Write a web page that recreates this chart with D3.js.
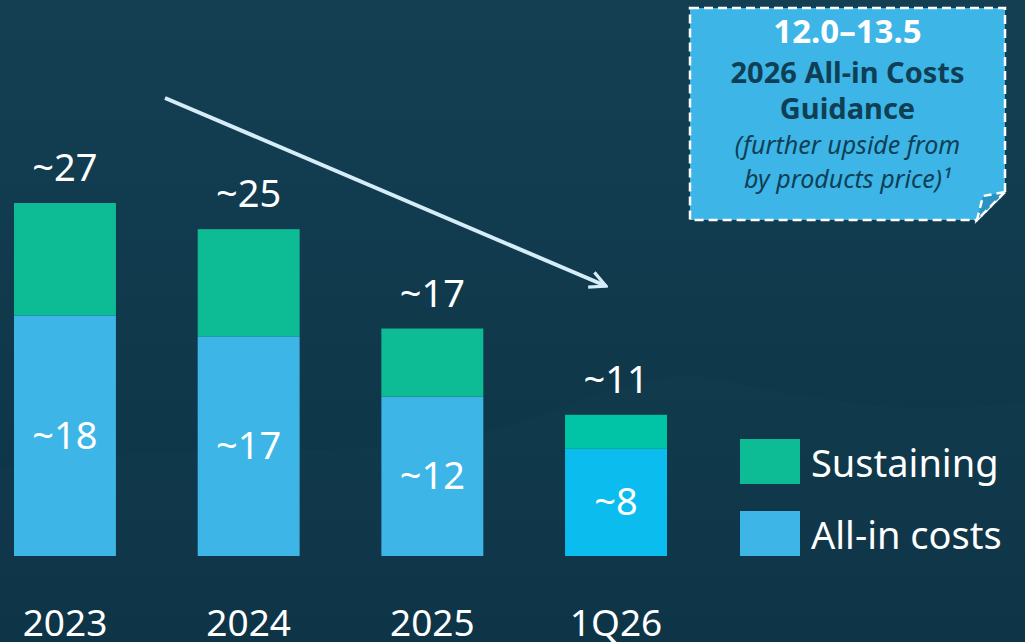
<!DOCTYPE html>
<html>
<head>
<meta charset="utf-8">
<script src="https://cdn.jsdelivr.net/npm/d3@7"></script>
<style>
  html, body { margin: 0; padding: 0; background: #123c4f; }
  svg { display: block; }
  text { font-family: "Noto Sans", "Open Sans", sans-serif; }
</style>
</head>
<body>
<div id="chart"></div>
<script>
// values (approx.)
const categories = ["2023", "2024", "2025", "1Q26"];
const allInCosts = [18.4, 16.8, 12.2, 8.2];
const sustaining = [8.6, 8.2, 5.2, 2.6];
const totalLabels = ["~27", "~25", "~17", "~11"];
const allInLabels = ["~18", "~17", "~12", "~8"];
const seriesNames = ["Sustaining", "All-in costs"];

const colors = {
    bg1: '#143f53',
    bg2: '#0c3345',
    allIn: '#3db5e6',
    allInHi: '#0bbcef',
    sust: '#0dbb95',
    sustHi: '#01c4a7',
    arrow: '#d4edf8',
    boxText: '#0f3f55',
}

const W = 1025, H = 642;
const svg = d3.select("#chart").append("svg")
    .attr("width", W)
    .attr("height", H);

// background
const defs = svg.append("defs");
const grad = defs.append("linearGradient").attr("id", "bg").attr("x1", 0).attr("y1", 0).attr("x2", 0).attr("y2", 1);
grad.append("stop").attr("offset", "0%").attr("stop-color", colors.bg1);
grad.append("stop").attr("offset", "100%").attr("stop-color", colors.bg2);
svg.append("rect").attr("width", W).attr("height", H).attr("fill", "url(#bg)");

// faint hill silhouette behind the bars
svg.append("path")
    .attr("d", "M0,470 C150,440 300,460 450,440 C560,420 640,360 720,380 C820,400 920,420 1025,400 L1025,642 L0,642 Z")
    .attr("fill", "#ffffff").attr("opacity", 0.012);

// scales
const x = d3.scaleBand()
    .domain(categories)
    .range([14, 667])
    .paddingInner(0.445)
    .paddingOuter(0);
const y = d3.scaleLinear()
    .domain([0, 27])
    .range([556, 203]);

const rows = categories.map((c, i) => ({cat: c, allIn: allInCosts[i], sust: sustaining[i], i}));

// all-in segment
svg.append("g").selectAll("rect")
    .data(rows)
    .join("rect")
    .attr("x", d => x(d.cat))
    .attr("width", x.bandwidth())
    .attr("y", d => y(d.allIn))
    .attr("height", d => y(0) - y(d.allIn))
    .attr("fill", d => d.i === 3 ? colors.allInHi : colors.allIn);

// sustaining segment
svg.append("g").selectAll("rect")
    .data(rows)
    .join("rect")
    .attr("x", d => x(d.cat))
    .attr("width", x.bandwidth())
    .attr("y", d => y(d.allIn + d.sust))
    .attr("height", d => y(d.allIn) - y(d.allIn + d.sust))
    .attr("fill", d => d.i === 3 ? colors.sustHi : colors.sust);

// labels inside all-in
svg.append("g").selectAll("text")
    .data(rows)
    .join("text")
    .attr("x", d => x(d.cat) + x.bandwidth() / 2)
    .attr("y", d => (y(d.allIn) + y(0)) / 2 + 13)
    .attr("text-anchor", "middle")
    .attr("fill", "#fff")
    .style("font-size", "38px")
    .text((d, i) => allInLabels[i]);

// totals above
svg.append("g").selectAll("text")
    .data(rows)
    .join("text")
    .attr("x", d => x(d.cat) + x.bandwidth() / 2)
    .attr("y", d => y(d.allIn + d.sust) - 22)
    .attr("text-anchor", "middle")
    .attr("fill", "#fff")
    .style("font-size", "38px")
    .text((d, i) => totalLabels[i]);

// category labels
svg.append("g").selectAll("text")
    .data(categories)
    .join("text")
    .attr("x", d => x(d) + x.bandwidth() / 2)
    .attr("y", 636)
    .attr("text-anchor", "middle")
    .attr("fill", "#fff")
    .style("font-size", "37px")
    .text(d => d);

// trend arrow
defs.append("marker")
    .attr("id", "head")
    .attr("viewBox", "0 0 10 10")
    .attr("refX", 9).attr("refY", 5)
    .attr("markerWidth", 5).attr("markerHeight", 5)
    .attr("orient", "auto")
    .append("path")
    .attr("d", "M1,1 L9,5 L1,9")
    .attr("fill", "none")
    .attr("stroke", colors.arrow)
    .attr("stroke-width", 1.6)
    .attr("stroke-linejoin", "miter");
svg.append("line")
    .attr("x1", 165).attr("y1", 98)
    .attr("x2", 606).attr("y2", 286)
    .attr("stroke", colors.arrow)
    .attr("stroke-width", 4)
    .attr("marker-end", "url(#head)");

// guidance box (sticky note with folded corner)
const bx0 = 690, by0 = 8, bx1 = 1005, by1 = 220, fold = 28;
svg.append("path")
    .attr("d", `M${bx0},${by0} L${bx1},${by0} L${bx1},${by1 - fold} L${bx1 - fold},${by1} L${bx0},${by1} Z`)
    .attr("fill", colors.allIn)
    .attr("stroke", "#fff")
    .attr("stroke-width", 2.5)
    .attr("stroke-dasharray", "9,5");
svg.append("path")
    .attr("d", `M${bx1},${by1 - fold} L${bx1 - fold},${by1} L${bx1 - fold + 6},${by1 - fold + 4} Z`)
    .attr("fill", "#2a93c3")
    .attr("stroke", "#fff")
    .attr("stroke-width", 2.5)
    .attr("stroke-dasharray", "8,5");

const cx = (bx0 + bx1) / 2;
const boxLines = [
    {t: "12.0–13.5", y: 43, size: 33, weight: 700, fill: "#fff", style: "normal"},
    {t: "2026 All-in Costs", y: 83, size: 29, weight: 700, fill: colors.boxText, style: "normal"},
    {t: "Guidance", y: 119, size: 29, weight: 700, fill: colors.boxText, style: "normal"},
    {t: "(further upside from", y: 154, size: 25, weight: 400, fill: colors.boxText, style: "italic"},
    {t: "by products price)¹", y: 188, size: 25, weight: 400, fill: colors.boxText, style: "italic"},
];
svg.append("g").selectAll("text")
    .data(boxLines)
    .join("text")
    .attr("x", cx)
    .attr("y", d => d.y)
    .attr("text-anchor", "middle")
    .attr("fill", d => d.fill)
    .style("font-size", d => d.size + "px")
    .style("font-weight", d => d.weight)
    .style("font-style", d => d.style)
    .text(d => d.t);

// legend
const legend = svg.append("g").selectAll("g")
    .data(seriesNames)
    .join("g")
    .attr("transform", (d, i) => `translate(740, ${439 + i * 72})`);
legend.append("rect")
    .attr("width", 60).attr("height", 45)
    .attr("fill", (d, i) => i === 0 ? colors.sust : colors.allIn);
legend.append("text")
    .attr("x", 71).attr("y", 38)
    .attr("fill", "#fff")
    .style("font-size", "38px")
    .text(d => d);
</script>
</body>
</html>
